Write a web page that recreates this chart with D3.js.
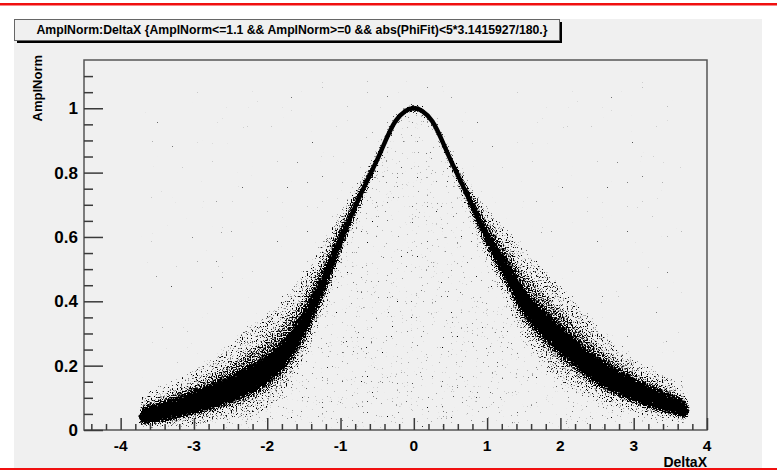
<!DOCTYPE html>
<html>
<head>
<meta charset="utf-8">
<script src="https://cdn.jsdelivr.net/npm/d3@7"></script>
<style>
  html, body { margin: 0; padding: 0; background: #ffffff; }
  svg { display: block; }
</style>
</head>
<body>
<svg id="chart" width="777" height="471"></svg>
<script>
// ---- chart content ----
const titleText = "AmplNorm:DeltaX {AmplNorm<=1.1 && AmplNorm>=0 && abs(PhiFit)<5*3.1415927/180.}";
const xTitle = "DeltaX";
const yTitle = "AmplNorm";
const xTickValues = [-4, -3, -2, -1, 0, 1, 2, 3, 4];
const yTickValues = [0, 0.2, 0.4, 0.6, 0.8, 1];

// DeltaX sample positions of the population profile
const deltaX = [-3.75, -3.5, -3.25, -3, -2.75, -2.5, -2.25, -2, -1.75, -1.5, -1.25, -1, -0.75, -0.5, -0.25,
                0, 0.25, 0.5, 0.75, 1, 1.25, 1.5, 1.75, 2, 2.25, 2.5, 2.75, 3, 3.25, 3.5, 3.75];
// most probable AmplNorm at each DeltaX (ridge of the distribution)
const amplRidge = [0.040, 0.052, 0.067, 0.085, 0.105, 0.128, 0.156, 0.19, 0.245, 0.33, 0.45, 0.59, 0.72, 0.84, 0.96,
                   1.0, 0.96, 0.84, 0.72, 0.60, 0.50, 0.40, 0.335, 0.28, 0.23, 0.186, 0.152, 0.124, 0.10, 0.08, 0.055];
// half height of the dense core around the ridge
const coreHalf = [0.021, 0.025, 0.029, 0.032, 0.035, 0.037, 0.039, 0.040, 0.038, 0.034, 0.027, 0.018, 0.010, 0.004, 0.003,
                  0.003, 0.003, 0.004, 0.010, 0.018, 0.027, 0.034, 0.038, 0.040, 0.039, 0.037, 0.035, 0.032, 0.029, 0.025, 0.021];
// extent of the scattered halo above and below the ridge
const haloUp = [0.07, 0.08, 0.09, 0.10, 0.12, 0.14, 0.16, 0.17, 0.17, 0.16, 0.13, 0.09, 0.05, 0.025, 0.012,
                0.012, 0.012, 0.025, 0.05, 0.09, 0.13, 0.16, 0.17, 0.17, 0.16, 0.14, 0.12, 0.10, 0.09, 0.08, 0.07];
const haloDown = [0.03, 0.045, 0.06, 0.07, 0.085, 0.10, 0.115, 0.125, 0.125, 0.115, 0.09, 0.07, 0.04, 0.025, 0.012,
                  0.012, 0.012, 0.025, 0.04, 0.07, 0.09, 0.115, 0.125, 0.125, 0.115, 0.10, 0.085, 0.07, 0.06, 0.045, 0.03];

// ---- layout ----
const W = 777, H = 471;
const frame = { left: 84, right: 707, top: 60, bottom: 430 };
const x = d3.scaleLinear().domain([-4.5, 4.0]).range([frame.left, frame.right]);
const y = d3.scaleLinear().domain([0, 1.15]).range([frame.bottom, frame.top]);

const svg = d3.select("#chart");
const font = "'Liberation Sans', Arial, Helvetica, sans-serif";

// page rules and canvas
svg.append("rect").attr("x", 0).attr("y", 0).attr("width", W).attr("height", H).attr("fill", "#ffffff");
svg.append("rect").attr("x", 14).attr("y", 19).attr("width", 748).attr("height", 449).attr("fill", "#f0f0f0");
svg.append("rect").attr("x", 0).attr("y", 3).attr("width", W).attr("height", 2.5).attr("fill", "#f01010");
svg.append("rect").attr("x", 0).attr("y", 468).attr("width", W).attr("height", 2).attr("fill", "#f01010");

// ---- density of the scatter rendered as a stipple ----
const defs = svg.append("defs");
const filt = defs.append("filter").attr("id", "stipple")
  .attr("filterUnits", "userSpaceOnUse")
  .attr("x", frame.left).attr("y", frame.top)
  .attr("width", frame.right - frame.left).attr("height", frame.bottom - frame.top)
  .attr("color-interpolation-filters", "sRGB");
filt.append("feGaussianBlur").attr("in", "SourceAlpha").attr("stdDeviation", 2.8).attr("result", "dens");
filt.append("feTurbulence").attr("type", "fractalNoise").attr("baseFrequency", 0.8)
  .attr("numOctaves", 1).attr("seed", 4).attr("result", "noise");
filt.append("feColorMatrix").attr("in", "noise").attr("type", "matrix")
  .attr("values", "0 0 0 0 0  0 0 0 0 0  0 0 0 0 0  1 0 0 0 0").attr("result", "na");
const K = 9, T = 1.0;
filt.append("feComposite").attr("in", "na").attr("in2", "dens").attr("operator", "arithmetic")
  .attr("k1", 0).attr("k2", K).attr("k3", K).attr("k4", -K * T);

const clip = defs.append("clipPath").attr("id", "plotClip");
clip.append("rect").attr("x", frame.left + 1).attr("y", frame.top + 1)
  .attr("width", frame.right - frame.left - 2).attr("height", frame.bottom - frame.top - 2);

const pts = deltaX.map((dx, i) => ({
  dx, ridge: amplRidge[i], core: coreHalf[i], up: haloUp[i], down: haloDown[i]
}));

const band = (lo, hi) => d3.area()
  .x(d => x(d.dx))
  .y0(d => y(Math.max(0, lo(d))))
  .y1(d => y(Math.max(0, hi(d))))
  .curve(d3.curveMonotoneX);

// target stipple densities of each zone
const rField = 0.245, rUnder = 0.30, rOuter = 0.43, rMid = 0.56, rCore = 0.90;
const opUnder = (rUnder - rField) / (1 - rField);
const opOuter = (rOuter - rField) / (1 - rField);
const opMid = (rMid - rOuter) / (1 - rOuter);
const opCore = (rCore - rMid) / (1 - rMid);

const scatter = svg.append("g").attr("clip-path", "url(#plotClip)")
  .append("g").attr("filter", "url(#stipple)");

scatter.append("rect")
  .attr("x", x(deltaX[0])).attr("y", y(1.1))
  .attr("width", x(deltaX[deltaX.length - 1]) - x(deltaX[0]))
  .attr("height", y(0) - y(1.1))
  .attr("fill", "#000").attr("fill-opacity", rField);

scatter.append("path").datum(pts)
  .attr("d", band(d => 0, d => d.ridge - d.down))
  .attr("fill", "#000").attr("fill-opacity", opUnder);

scatter.append("path").datum(pts)
  .attr("d", band(d => d.ridge - d.down, d => d.ridge + d.up))
  .attr("fill", "#000").attr("fill-opacity", opOuter);

scatter.append("path").datum(pts)
  .attr("d", band(d => d.ridge - 0.55 * d.down, d => d.ridge + 0.55 * d.up))
  .attr("fill", "#000").attr("fill-opacity", opMid);

scatter.append("path").datum(pts)
  .attr("d", band(d => d.ridge - d.core, d => d.ridge + d.core))
  .attr("fill", "#000").attr("fill-opacity", opCore);

// ridge line
svg.append("path").datum(pts)
  .attr("d", d3.line().x(d => x(d.dx)).y(d => y(d.ridge)).curve(d3.curveMonotoneX))
  .attr("fill", "none").attr("stroke", "#000").attr("stroke-width", 4.4);

// ---- frame and axes ----
const axisColor = "#3a3a3a";
svg.append("rect")
  .attr("x", frame.left).attr("y", frame.top)
  .attr("width", frame.right - frame.left).attr("height", frame.bottom - frame.top)
  .attr("fill", "none").attr("stroke", "#555").attr("stroke-width", 1.5);

// y axis: ticks point into the frame
const yMinor = d3.range(0, 1.1001, 0.05);
const yAxis = d3.axisRight(y).tickValues(yMinor).tickSize(9).tickFormat("");
const gy = svg.append("g").attr("transform", `translate(${frame.left},0)`).call(yAxis);
gy.select(".domain").remove();
gy.selectAll(".tick line").attr("stroke", axisColor).attr("stroke-width", 1.5)
  .attr("x2", d => yTickValues.some(v => Math.abs(v - d) < 1e-6) ? 19 : 9);

svg.append("g").selectAll("text").data(yTickValues).join("text")
  .attr("x", frame.left - 6).attr("y", d => y(d)).attr("dy", "0.36em")
  .attr("text-anchor", "end")
  .attr("font-family", font).attr("font-weight", "bold").attr("font-size", 17).attr("fill", "#000")
  .text(d => d3.format("")(d));

// x axis: ticks point up into the frame
const xMinor = d3.range(-4.4, 4.0001, 0.2).map(v => Math.round(v * 10) / 10);
const xAxis = d3.axisTop(x).tickValues(xMinor).tickSize(6).tickFormat("");
const gx = svg.append("g").attr("transform", `translate(0,${frame.bottom})`).call(xAxis);
gx.select(".domain").remove();
gx.selectAll(".tick line").attr("stroke", axisColor).attr("stroke-width", 1.5)
  .attr("y2", d => xTickValues.some(v => Math.abs(v - d) < 1e-6) ? -12 : -6);

svg.append("g").selectAll("text").data(xTickValues).join("text")
  .attr("x", d => x(d)).attr("y", 450.5)
  .attr("text-anchor", "middle")
  .attr("font-family", font).attr("font-weight", "bold").attr("font-size", 15.5).attr("fill", "#000")
  .text(d => d);

// axis titles
svg.append("text").attr("x", frame.right).attr("y", 467).attr("text-anchor", "end")
  .attr("font-family", font).attr("font-weight", "bold").attr("font-size", 14).attr("fill", "#000")
  .text(xTitle);
svg.append("text").attr("transform", `translate(42,55) rotate(-90)`).attr("text-anchor", "end")
  .attr("font-family", font).attr("font-weight", "bold").attr("font-size", 13).attr("fill", "#000")
  .text(yTitle);

// ---- title box with drop shadow ----
svg.append("rect").attr("x", 17).attr("y", 22).attr("width", 545).attr("height", 21).attr("fill", "#000");
svg.append("rect").attr("x", 14.5).attr("y", 19.5).attr("width", 545).attr("height", 21)
  .attr("fill", "#f0f0f0").attr("stroke", "#666").attr("stroke-width", 1);
svg.append("text").attr("x", 292).attr("y", 34).attr("text-anchor", "middle")
  .attr("font-family", font).attr("font-weight", "bold").attr("font-size", 12).attr("fill", "#000")
  .attr("textLength", 511).attr("lengthAdjust", "spacingAndGlyphs")
  .text(titleText);
</script>
</body>
</html>
